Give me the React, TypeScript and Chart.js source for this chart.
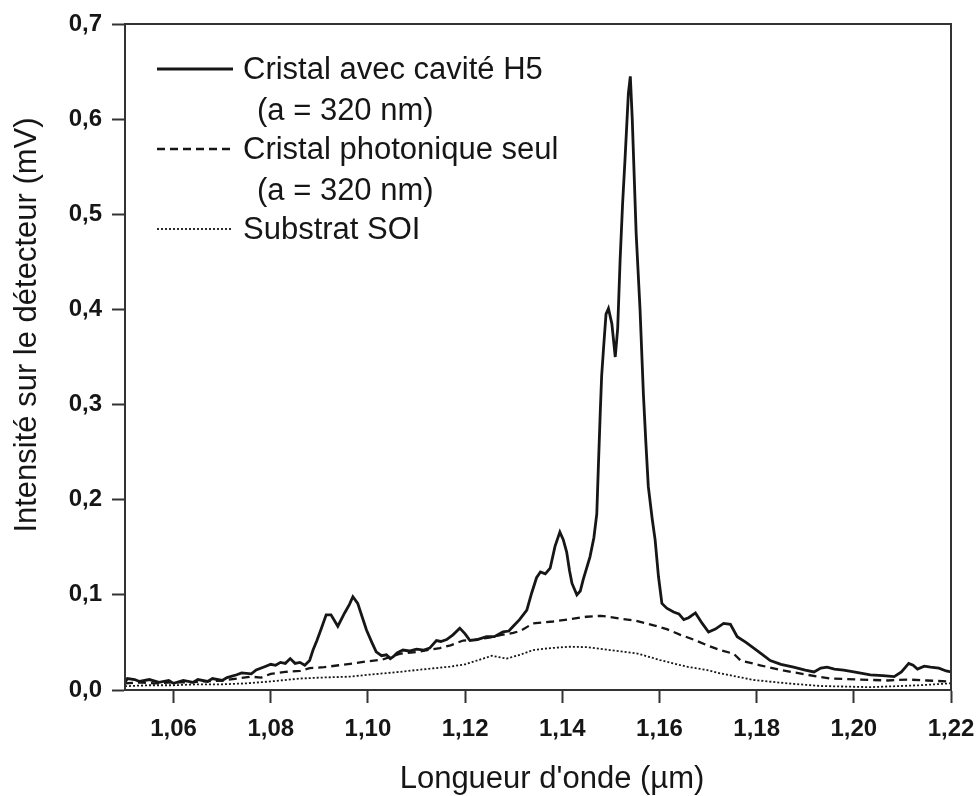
import React, { useEffect, useRef } from "react";
import { Chart, registerables } from "chart.js";

Chart.register(...registerables);

// ---- Data ----
const X_TICKS = [1.06, 1.08, 1.1, 1.12, 1.14, 1.16, 1.18, 1.2, 1.22];
const X_TICK_LABELS = ["1,06", "1,08", "1,10", "1,12", "1,14", "1,16", "1,18", "1,20", "1,22"];
const Y_TICKS = [0, 0.1, 0.2, 0.3, 0.4, 0.5, 0.6, 0.7];
const Y_TICK_LABELS = ["0,0", "0,1", "0,2", "0,3", "0,4", "0,5", "0,6", "0,7"];

const SERIES_NAMES = ["Cristal avec cavité H5", "Cristal photonique seul", "Substrat SOI"];
const SERIES_SUBLABELS = ["(a = 320 nm)", "(a = 320 nm)", ""];

// Cristal avec cavité H5 (solid)
const WL_CAVITY = [
  1.05, 1.0505, 1.052, 1.053, 1.055, 1.057, 1.059, 1.06, 1.062, 1.064, 1.065, 1.067, 1.068, 1.07, 1.071,
  1.073, 1.074, 1.076, 1.077, 1.079, 1.08, 1.081, 1.082, 1.083, 1.084, 1.085, 1.086, 1.087, 1.088, 1.0887,
  1.0895, 1.0905, 1.0914, 1.0924, 1.0938, 1.0952, 1.0962, 1.0969, 1.0979, 1.0988, 1.0997, 1.1008, 1.1017,
  1.1028, 1.1038, 1.1046, 1.1052, 1.106, 1.1072, 1.1085, 1.11, 1.1115, 1.1127, 1.1141, 1.115, 1.1162,
  1.1175, 1.1189, 1.12, 1.121, 1.1225, 1.1244, 1.126, 1.1278, 1.129, 1.1299, 1.1312, 1.1327, 1.1337,
  1.1347, 1.1355, 1.1365, 1.1375, 1.1385, 1.1395, 1.1402, 1.1409, 1.1415, 1.142, 1.143, 1.1437, 1.1443,
  1.1457, 1.1465, 1.1471, 1.1474, 1.1478, 1.1481, 1.1485, 1.149, 1.1495, 1.1502, 1.1509, 1.1514, 1.1519,
  1.1524, 1.1529, 1.1536, 1.154, 1.1544, 1.1552, 1.156, 1.1567, 1.1572, 1.1577, 1.1585, 1.1591, 1.1598,
  1.1605, 1.1615, 1.1629, 1.164, 1.165, 1.166, 1.1674, 1.1688, 1.1701, 1.1715, 1.1732, 1.1746, 1.176,
  1.1778, 1.1794, 1.181, 1.1828, 1.185, 1.1876, 1.19, 1.1918, 1.1932, 1.1945, 1.196, 1.1979, 1.2, 1.2034,
  1.206, 1.2083, 1.2098, 1.2113, 1.2122, 1.2131, 1.2145, 1.2158, 1.2175, 1.219, 1.22,
];
const I_CAVITY = [
  0.008, 0.012, 0.011, 0.009, 0.011, 0.008, 0.01, 0.007, 0.01, 0.008, 0.011, 0.009, 0.012, 0.01, 0.013,
  0.016, 0.018, 0.017, 0.021, 0.025, 0.027, 0.026, 0.029, 0.028, 0.033, 0.028, 0.029, 0.026, 0.031, 0.042,
  0.052, 0.066, 0.079, 0.079, 0.067, 0.081, 0.09, 0.098, 0.091, 0.077, 0.063, 0.05, 0.04,
  0.036, 0.037, 0.033, 0.035, 0.039, 0.042, 0.041, 0.043, 0.042, 0.044, 0.052, 0.051, 0.053,
  0.058, 0.065, 0.059, 0.052, 0.053, 0.056, 0.056, 0.061, 0.062, 0.067, 0.074, 0.084, 0.102,
  0.118, 0.124, 0.122, 0.128, 0.151, 0.166, 0.158, 0.145, 0.125, 0.112, 0.1, 0.104, 0.116,
  0.14, 0.16, 0.185, 0.231, 0.29, 0.33, 0.36, 0.395, 0.401, 0.385, 0.35, 0.38, 0.452,
  0.51, 0.557, 0.627, 0.645, 0.6, 0.48, 0.4, 0.31, 0.26, 0.214, 0.18, 0.158, 0.119,
  0.091, 0.086, 0.082, 0.08, 0.074, 0.076, 0.081, 0.07, 0.061, 0.064, 0.07, 0.069, 0.056,
  0.05, 0.044, 0.038, 0.031, 0.027, 0.024, 0.021, 0.019, 0.023, 0.024, 0.022, 0.021, 0.019, 0.016,
  0.015, 0.014, 0.019, 0.028, 0.026, 0.022, 0.025, 0.024, 0.023, 0.02, 0.019,
];

// Cristal photonique seul (dashed)
const WL_PHOTONIC = [
  1.05, 1.053, 1.056, 1.06, 1.063, 1.066, 1.07, 1.073, 1.076, 1.078, 1.08, 1.083, 1.086, 1.088, 1.091,
  1.094, 1.097, 1.0997, 1.103, 1.1065, 1.11, 1.1148, 1.117, 1.1196, 1.122, 1.125, 1.1275, 1.1299, 1.1313,
  1.134, 1.1381, 1.141, 1.145, 1.148, 1.1519, 1.155, 1.1588, 1.1615, 1.1643, 1.167, 1.1698, 1.1725,
  1.1753, 1.1767, 1.1807, 1.1849, 1.1904, 1.1952, 1.2014, 1.2069, 1.211, 1.2151, 1.2193, 1.22,
];
const I_PHOTONIC = [
  0.007, 0.008, 0.007, 0.008, 0.008, 0.009, 0.01, 0.012, 0.014, 0.013, 0.017, 0.019, 0.02, 0.023, 0.024,
  0.026, 0.028, 0.03, 0.032, 0.038, 0.04, 0.044, 0.047, 0.052, 0.053, 0.055, 0.058, 0.06, 0.062,
  0.07, 0.072, 0.074, 0.077, 0.078, 0.075, 0.073, 0.068, 0.064, 0.058, 0.053, 0.047, 0.042,
  0.038, 0.031, 0.026, 0.021, 0.016, 0.012, 0.011, 0.01, 0.011, 0.01, 0.009, 0.008,
];

// Substrat SOI (dotted)
const WL_SOI = [
  1.05, 1.055, 1.06, 1.065, 1.07, 1.075, 1.08, 1.0859, 1.09, 1.0962, 1.1, 1.1065, 1.11, 1.1168, 1.12,
  1.1237, 1.1255, 1.1285, 1.1313, 1.134, 1.1375, 1.1416, 1.145, 1.1498, 1.1553, 1.1601, 1.1656, 1.1698,
  1.1725, 1.176, 1.1794, 1.1863, 1.1931, 1.2034, 1.2137, 1.22,
];
const I_SOI = [
  0.004, 0.005, 0.005, 0.006, 0.006, 0.007, 0.009, 0.012, 0.013, 0.014, 0.016, 0.019, 0.021, 0.0245, 0.027,
  0.033, 0.036, 0.033, 0.037, 0.042, 0.044, 0.0455, 0.045, 0.042, 0.0386, 0.0315, 0.0245, 0.021,
  0.0175, 0.014, 0.0105, 0.007, 0.0042, 0.003, 0.005, 0.007,
];

const X_TITLE = "Longueur d'onde (µm)";
const Y_TITLE = "Intensité sur le détecteur (mV)";

const FONT = '"Liberation Sans", Arial, Helvetica, sans-serif';
const INK = "#161616";
const AXIS = "#333333";

const DASHES = [[], [8, 5], [2, 2]];
const WIDTHS = [2.8, 2.3, 1.8];

const zip = (xs: number[], ys: number[]) => xs.map((x, i) => ({ x, y: ys[i] }));

const framePlugin = {
  id: "frame",
  afterDatasetsDraw(chart: any) {
    const { ctx, chartArea } = chart;
    ctx.save();
    ctx.strokeStyle = AXIS;
    ctx.lineWidth = 2;
    ctx.strokeRect(chartArea.left, chartArea.top, chartArea.right - chartArea.left, chartArea.bottom - chartArea.top);
    ctx.restore();
  },
};

const annotationsPlugin = {
  id: "annot",
  afterDraw(chart: any) {
    const { ctx, chartArea } = chart;
    ctx.save();
    ctx.fillStyle = INK;
    // axis titles
    ctx.font = `31px ${FONT}`;
    ctx.textAlign = "center";
    ctx.textBaseline = "alphabetic";
    ctx.fillText(X_TITLE, 552, 788);
    ctx.save();
    ctx.translate(36, 325);
    ctx.rotate(-Math.PI / 2);
    ctx.fillText(Y_TITLE, 0, 0);
    ctx.restore();

    // legend
    const x0 = chartArea.left + 32;
    const x1 = x0 + 76;
    const rows = [69, 149, 229];
    ctx.textAlign = "left";
    ctx.textBaseline = "middle";
    for (let i = 0; i < SERIES_NAMES.length; i++) {
      const y = rows[i];
      ctx.beginPath();
      ctx.strokeStyle = INK;
      ctx.lineWidth = WIDTHS[i];
      ctx.setLineDash(DASHES[i]);
      ctx.moveTo(x0, y);
      ctx.lineTo(x1, y);
      ctx.stroke();
      ctx.setLineDash([]);
      ctx.fillText(SERIES_NAMES[i], x1 + 10, y + 1);
      if (SERIES_SUBLABELS[i]) ctx.fillText(SERIES_SUBLABELS[i], x1 + 24, y + 42);
    }
    ctx.restore();
  },
};

export default function App() {
  const ref = useRef<HTMLCanvasElement | null>(null);

  useEffect(() => {
    const canvas = ref.current;
    if (!canvas) return;
    const series = [zip(WL_CAVITY, I_CAVITY), zip(WL_PHOTONIC, I_PHOTONIC), zip(WL_SOI, I_SOI)];
    const chart = new Chart(canvas, {
      type: "line",
      data: {
        datasets: series.map((d, i) => ({
          label: SERIES_NAMES[i],
          data: d,
          borderColor: INK,
          borderWidth: WIDTHS[i],
          borderDash: DASHES[i],
          pointRadius: 0,
          tension: 0,
          fill: false,
        })),
      },
      options: {
        responsive: false,
        animation: false,
        events: [],
        layout: { padding: { top: 24, right: 27, left: 0, bottom: 0 } },
        plugins: { legend: { display: false }, tooltip: { enabled: false }, title: { display: false } },
        scales: {
          x: {
            type: "linear",
            min: 1.05,
            max: 1.22,
            afterBuildTicks: (s: any) => {
              s.ticks = X_TICKS.map((v) => ({ value: v }));
            },
            afterFit: (s: any) => {
              s.height = 106;
              s.paddingLeft = 0;
              s.paddingRight = 0;
            },
            ticks: {
              callback: (_v: any, i: number) => X_TICK_LABELS[i],
              color: INK,
              font: { family: FONT, size: 24, weight: "bold" },
              padding: 12,
              maxRotation: 0,
              autoSkip: false,
            },
            grid: { drawOnChartArea: false, drawTicks: true, tickLength: 13, tickWidth: 2, tickColor: AXIS },
            border: { display: true, color: AXIS, width: 2 },
          },
          y: {
            type: "linear",
            min: 0,
            max: 0.7,
            afterBuildTicks: (s: any) => {
              s.ticks = Y_TICKS.map((v) => ({ value: v }));
            },
            afterFit: (s: any) => {
              s.width = 125;
              s.paddingTop = 0;
              s.paddingBottom = 0;
            },
            ticks: {
              callback: (_v: any, i: number) => Y_TICK_LABELS[i],
              color: INK,
              font: { family: FONT, size: 24, weight: "bold" },
              padding: 10,
              autoSkip: false,
            },
            grid: { drawOnChartArea: false, drawTicks: true, tickLength: 13, tickWidth: 2, tickColor: AXIS },
            border: { display: true, color: AXIS, width: 2 },
          },
        },
      },
      plugins: [framePlugin, annotationsPlugin],
    } as any);
    return () => chart.destroy();
  }, []);

  return (
    <div style={{ position: "absolute", left: 0, top: 0, width: 978, height: 796, background: "#fff" }}>
      <canvas ref={ref} width={978} height={796} style={{ display: "block" }} />
    </div>
  );
}
